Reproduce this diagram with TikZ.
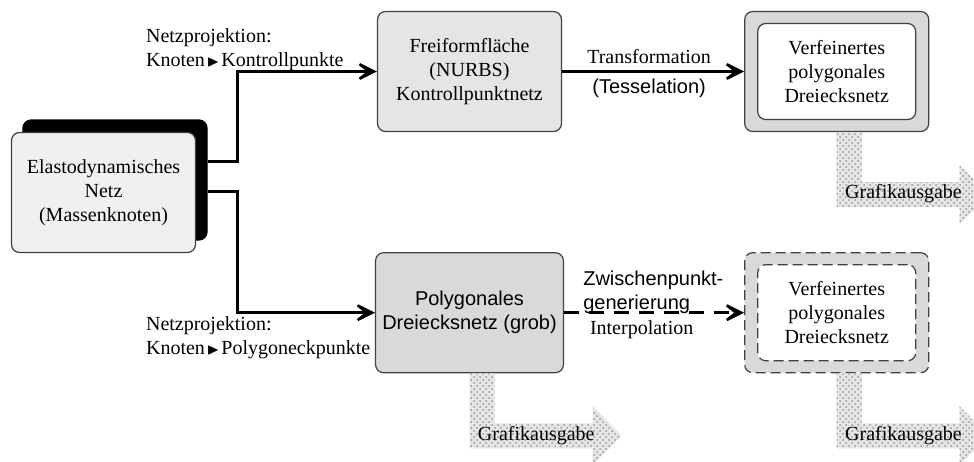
\documentclass[tikz,border=0pt]{standalone}
\usepackage{fontspec}
\setmainfont{Liberation Serif}
\setsansfont{Liberation Sans}
\usepackage{amssymb}
\usetikzlibrary{positioning,arrows.meta,patterns}

\tikzset{
	kasten/.style={draw=black!75, line width=0.6pt, rounded corners=4pt, minimum width=92pt, minimum height=60pt, align=center},
	innen/.style={kasten, fill=white, minimum width=79pt, minimum height=48pt},
	pfeil/.style={line width=1.3pt, -{Stealth[length=14pt,width=14pt,inset=9pt]}},
	ausgabe/.style={preaction={fill=black!10}, pattern=crosshatch dots, pattern color=black!40},
}
\newcommand{\zeiger}{\kern1pt{\footnotesize$\blacktriangleright$}\kern1pt}

\begin{document}
\begin{tikzpicture}[x=0.5pt, y=-0.5pt]
\useasboundingbox (0,0) rectangle (974,461);
	% linker Kasten mit Schatten
	\node[kasten, fill=black, draw=black] (schatten) at (115,180) {};
	\node[kasten, fill=black!6, xshift=-5.75pt, yshift=-6.25pt] (massen) at (schatten) {Elastodynamisches\\Netz\\(Massenknoten)};
	% mittlere Spalte
	\node[kasten, fill=black!10] (frei) at (469.5,71.5) {Freiformfläche\\(NURBS)\\Kontrollpunktnetz};
	\node[kasten, fill=black!15, font=\sffamily, below=60pt of frei] (poly) {Polygonales\\Dreiecksnetz (grob)};
	% rechte Spalte
	\node[kasten, fill=black!15, right=91pt of frei] (oben) {};
	\node[innen] (obeninnen) at (oben) {Verfeinertes\\polygonales\\Dreiecksnetz};
	\node[kasten, fill=black!15, dash pattern=on 5pt off 2.5pt, below=60pt of oben] (unten) {};
	\node[innen, dash pattern=on 5pt off 2.5pt] (unteninnen) at (unten) {Verfeinertes\\polygonales\\Dreiecksnetz};
	% Netzprojektion
	\draw[pfeil] ([yshift=9.25pt]schatten.east) -- ++(30,0) |- (frei.west);
	\draw[pfeil] ([yshift=-5.75pt]schatten.east) -- ++(30,0) |- (poly.west);
	\node[anchor=west, align=left] (projoben) at (139,50) {Netzprojektion:\\Knoten\zeiger Kontrollpunkte};
	\node[anchor=west, align=left] (projunten) at (139,338) {Netzprojektion:\\Knoten\zeiger Polygoneckpunkte};
	% Transformation / Interpolation
	\draw[pfeil] (frei) -- node[above, xshift=-2pt]{Transformation} node[below, font=\sffamily, xshift=-2pt]{(Tesselation)} (oben);
	\draw[pfeil, dash pattern=on 7.5pt off 5pt] (poly) -- node[pos=0.1, anchor=south west, inner sep=0pt, yshift=-1pt, align=left, font=\sffamily]{Zwischenpunkt-\\generierung} node[pos=0.1, anchor=north west]{Interpolation} (unten);
	% Grafikausgabe
	\foreach \k in {oben,poly,unten}{
		\fill[ausgabe] (\k.south) -- ++(25,0) -- ++(0,50) -- ++(98,0) -- ++(0,-17) -- ++(29,29.5) -- ++(-29,29.5) -- ++(0,-17) -- ++(-123,0) -- cycle;
		\node[anchor=west] (grafik\k) at ([xshift=0.7pt,yshift=-31pt]\k.south) {Grafikausgabe};
	}
\end{tikzpicture}
\end{document}
